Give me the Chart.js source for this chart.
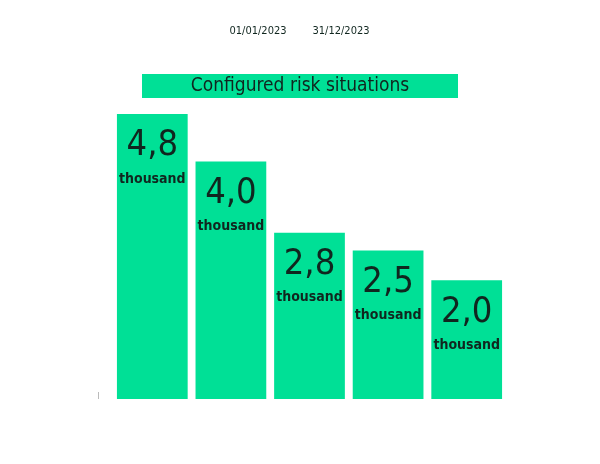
<!DOCTYPE html>
<html>
<head>
<meta charset="utf-8">
<script src="https://cdn.jsdelivr.net/npm/chart.js@4"></script>
<style>
  body { margin: 0; background: #fff; }
  canvas { display: block; }
</style>
</head>
<body>
<canvas id="riskChart" width="600" height="464"></canvas>
<script>
// Chart data
const categories = ['A', 'B', 'C', 'D', 'E'];
const values = [4.8, 4.0, 2.8, 2.5, 2.0];
const valueLabels = ['4,8', '4,0', '2,8', '2,5', '2,0'];
const unitLabel = 'thousand';
const chartTitle = 'Configured risk situations';
const periodLabels = ['01/01/2023', '31/12/2023'];

const green = '#00e096';
const ink = '#10261f';
const font = '"Liberation Sans Narrow", "DejaVu Sans Condensed", sans-serif';

// Draws header, title banner and the labels inside the bars
const decorations = {
    id: 'decorations',
    afterDatasetsDraw(chart) {
        const c = chart.ctx;
        c.save();
        c.textAlign = 'center';
        c.textBaseline = 'middle';
        c.fillStyle = ink;
        c.font = '11px ' + font;
        c.fillText(periodLabels[0], 258, 31);
        c.fillText(periodLabels[1], 341, 31);

        c.fillStyle = green;
        c.fillRect(142, 74, 316, 24);
        c.fillStyle = ink;
        c.font = '19px ' + font;
        c.fillText(chartTitle, 300, 86);

        // tiny mark at the left of the baseline
        c.fillStyle = '#bbb';
        c.fillRect(98, 392, 1, 7);

        chart.getDatasetMeta(0).data.forEach((bar, i) => {
            c.fillStyle = ink;
            c.font = '36px ' + font;
            c.fillText(valueLabels[i], bar.x, bar.y + 32);
            c.font = 'bold 14px ' + font;
            c.fillText(unitLabel, bar.x, bar.y + 65);
        });
        c.restore();
    }
};

new Chart(document.getElementById('riskChart').getContext('2d'), {
    type: 'bar',
    data: {
        labels: categories,
        datasets: [{
            data: values,
            backgroundColor: green,
            borderWidth: 0,
            categoryPercentage: 0.9,
            barPercentage: 1
        }]
    },
    options: {
        responsive: false,
        animation: false,
        layout: { padding: { top: 114, bottom: 65, left: 113, right: 94 } },
        plugins: { legend: { display: false }, tooltip: { enabled: false } },
        scales: {
            x: { display: false },
            y: { display: false, min: 0, max: 4.8 }
        }
    },
    plugins: [decorations]
});
</script>
</body>
</html>
